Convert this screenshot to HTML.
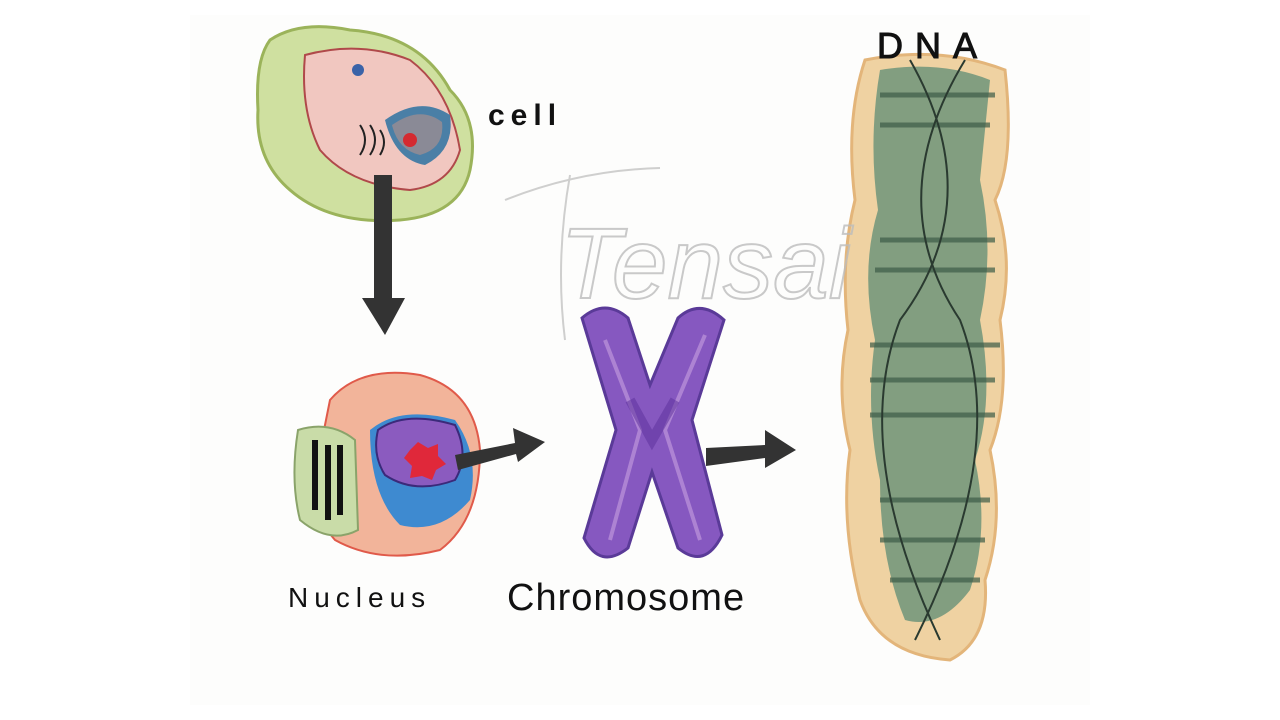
<!DOCTYPE html>
<html><head><meta charset="utf-8"><style>
html,body{margin:0;padding:0;background:#fff;}
svg{display:block;}
text{font-family:"Liberation Sans",sans-serif;}
</style></head><body>
<svg width="1280" height="720" viewBox="0 0 1280 720" xmlns="http://www.w3.org/2000/svg">
<rect width="1280" height="720" fill="#ffffff"/>
<rect x="190" y="15" width="900" height="690" fill="#fdfdfc"/>
<!-- Cell -->
<path d="M270 40 Q300 20 350 30 Q420 35 450 90 Q480 120 470 170 Q460 215 400 220 Q330 225 290 190 Q255 160 258 110 Q255 60 270 40Z" fill="#cfe0a0" stroke="#9bb35a" stroke-width="3"/>
<path d="M305 55 Q360 40 410 60 Q450 90 460 150 Q450 185 410 190 Q350 185 320 150 Q300 110 305 55Z" fill="#f1c7c0" stroke="#b0494a" stroke-width="2"/>
<circle cx="358" cy="70" r="6" fill="#3a63a8"/>
<path d="M385 120 Q420 95 450 115 Q455 150 425 165 Q395 160 385 120Z" fill="#4a7fa6"/>
<path d="M392 125 Q420 105 442 122 Q445 148 420 155 Q398 150 392 125Z" fill="#8a8a96"/>
<circle cx="410" cy="140" r="7" fill="#d42a30"/>
<path d="M360 125 q10 15 0 30 M370 125 q10 15 0 30 M380 130 q8 12 0 25" stroke="#222" stroke-width="2" fill="none"/>
<text x="488" y="125" font-size="30" font-weight="bold" fill="#111" letter-spacing="6">cell</text>
<!-- Arrow down -->
<rect x="374" y="175" width="18" height="125" fill="#333"/>
<polygon points="362,298 405,298 385,335" fill="#333"/>
<!-- Nucleus -->
<path d="M330 400 Q360 365 420 375 Q475 390 480 450 Q480 520 440 550 Q380 565 335 540 Q300 500 320 450Z" fill="#f2b49a" stroke="#e05a4a" stroke-width="2"/>
<path d="M298 430 Q330 420 355 440 L358 530 Q330 545 300 520 Q290 480 298 430Z" fill="#c9dca8" stroke="#8aa36a" stroke-width="2"/>
<path d="M315 440 v70 M328 445 v75 M340 445 v70" stroke="#111" stroke-width="6" fill="none"/>
<path d="M370 430 Q400 405 455 420 Q480 455 470 500 Q440 535 400 525 Q370 495 370 430Z" fill="#3e8ad0"/>
<path d="M378 430 Q405 410 455 425 Q470 455 455 480 Q415 495 385 475 Q372 455 378 430Z" fill="#8b5bbf" stroke="#3b2a7a" stroke-width="2"/>
<path d="M410 450 l8 -8 l10 6 l10 -4 l0 12 l8 8 l-10 6 l-4 10 l-10 -4 l-12 2 l2 -12 l-8 -8Z" fill="#e0283a"/>
<!-- Arrow right 1 -->
<polygon points="455,455 515,443 513,428 545,442 518,462 516,454 458,470" fill="#333"/>
<!-- Chromosome -->
<path d="M582 318 Q605 298 628 318 L650 385 L678 318 Q700 298 724 320 L692 420 L722 535 Q705 570 678 548 L652 472 L628 548 Q600 570 584 538 L616 430 Z" fill="#8658c0" stroke="#5a3a98" stroke-width="3"/>
<path d="M605 340 L640 430 L610 540 M705 335 L665 430 L700 540" stroke="#c8a0e0" stroke-width="4" fill="none" opacity="0.6"/>
<path d="M630 400 L652 440 L675 400" stroke="#5a2e9a" stroke-width="10" fill="none" opacity="0.5"/>
<!-- Arrow right 2 -->
<polygon points="706,448 765,445 765,430 796,450 765,468 765,458 706,466" fill="#333"/>
<!-- DNA -->
<path d="M865 60 Q940 45 1005 70 Q1015 160 995 200 Q1015 260 1000 320 Q1010 400 990 450 Q1005 520 985 580 Q990 640 950 660 Q880 655 860 600 Q840 520 850 450 Q835 390 848 330 Q840 260 855 200 Q845 120 865 60Z" fill="#efd2a2" stroke="#e3b57a" stroke-width="3"/>
<path d="M880 70 Q940 60 990 80 L980 180 Q995 250 980 320 Q995 400 975 460 Q990 530 970 590 Q940 630 905 620 Q880 560 880 480 Q865 410 875 340 Q860 270 878 210 Q868 140 880 70Z" fill="#6f957a" opacity="0.85"/>
<g stroke="#3d5c48" stroke-width="5" opacity="0.7">
<line x1="880" y1="95" x2="995" y2="95"/><line x1="880" y1="125" x2="990" y2="125"/><line x1="880" y1="240" x2="995" y2="240"/><line x1="875" y1="270" x2="995" y2="270"/><line x1="870" y1="345" x2="1000" y2="345"/><line x1="870" y1="380" x2="995" y2="380"/><line x1="870" y1="415" x2="995" y2="415"/><line x1="880" y1="500" x2="990" y2="500"/><line x1="880" y1="540" x2="985" y2="540"/><line x1="890" y1="580" x2="980" y2="580"/>
</g>
<path d="M910 60 Q990 200 900 320 Q850 450 940 640 M965 60 Q880 200 960 320 Q1010 450 915 640" stroke="#2a3a30" stroke-width="2" fill="none"/>
<text x="877" y="58" font-size="36" fill="#111" stroke="#111" stroke-width="1" letter-spacing="12">DNA</text>
<!-- labels -->
<text x="288" y="607" font-size="28" fill="#111" letter-spacing="6">Nucleus</text>
<text x="507" y="610" font-size="38" fill="#111" letter-spacing="1">Chromosome</text>
<!-- watermark -->
<text x="560" y="298" font-size="100" font-family="Liberation Serif,serif" font-style="italic" fill="none" stroke="#bdbdbd" stroke-width="2" opacity="0.8">Tensai</text>
<path d="M505 200 Q580 170 660 168 M570 175 Q555 260 565 340" stroke="#bbb" stroke-width="2" fill="none" opacity="0.7"/>
</svg>
</body></html>
